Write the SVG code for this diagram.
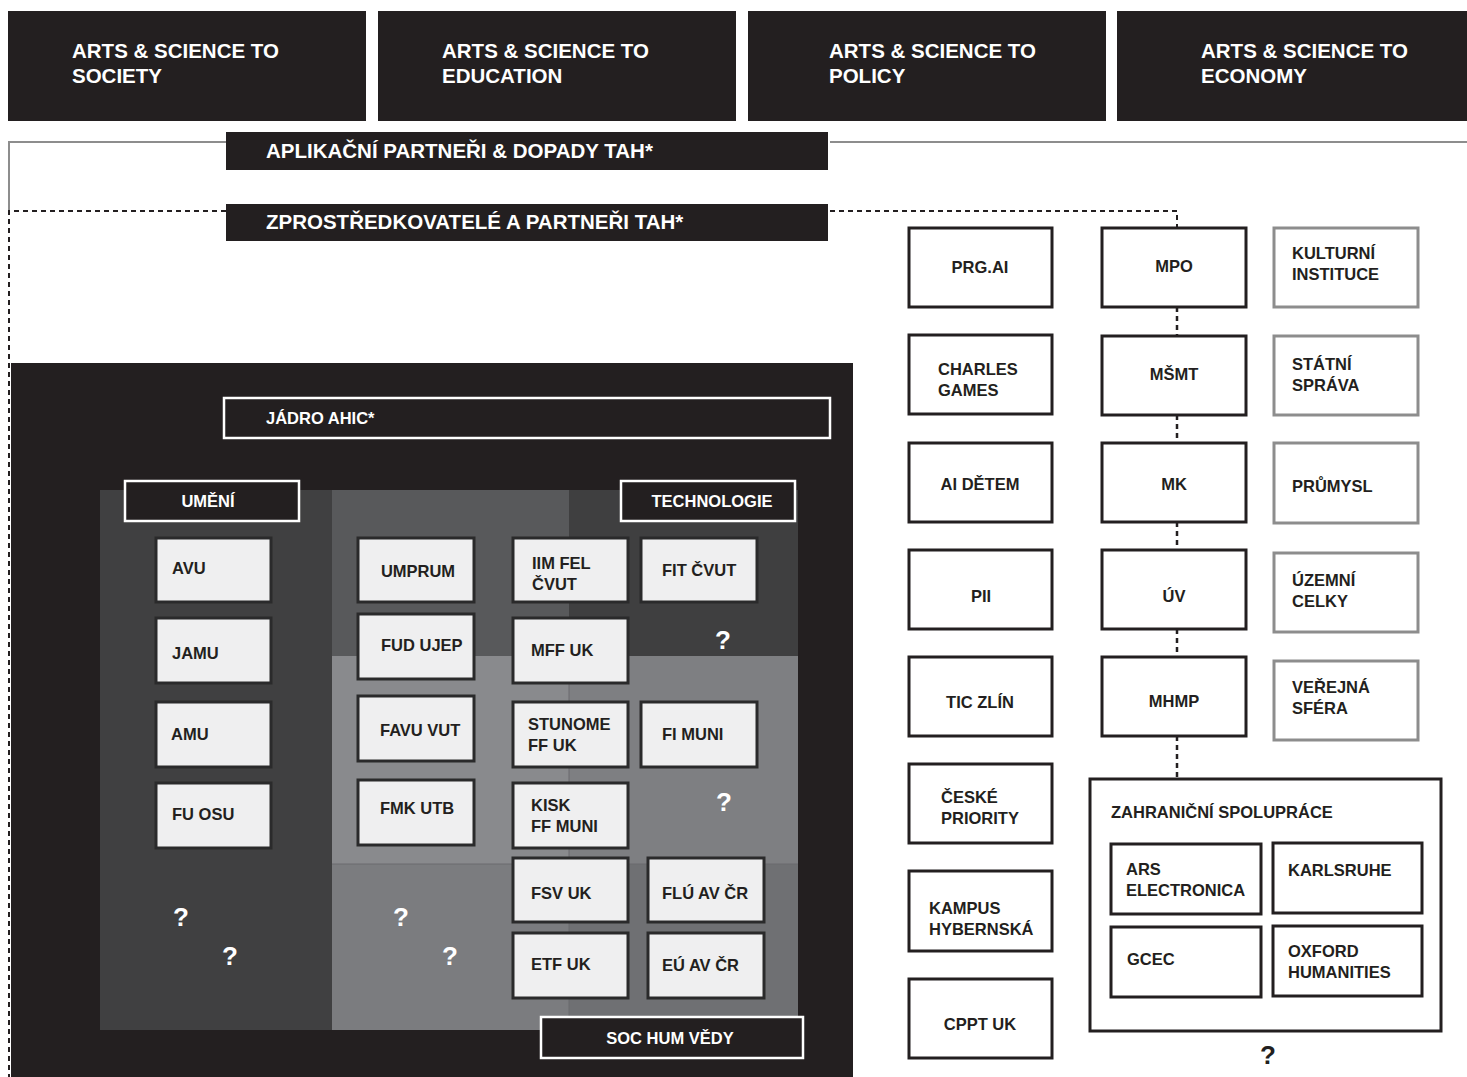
<svg xmlns="http://www.w3.org/2000/svg" width="1467" height="1077" viewBox="0 0 1467 1077">
<style>
text{font-family:"Liberation Sans",Arial,sans-serif;font-weight:700}
.hd{fill:#231f20}
.wt{fill:#ffffff}
.dt{fill:#231f20}
.nb{fill:#efeff0;stroke:#2a2a2b;stroke-width:3}
.rb{fill:#ffffff;stroke:#231f20;stroke-width:3}
.gb{fill:#ffffff;stroke:#8d8d8d;stroke-width:3}
.lab{fill:#231f20;stroke:#ffffff;stroke-width:2.5}
.q{fill:#ffffff;font-size:26px}
.s20{font-size:20.5px}
.s16{font-size:16.5px}
</style>
<rect width="1467" height="1077" fill="#ffffff"/>

<g id="connectors">
  <path d="M226 142 H9 V211" fill="none" stroke="#8d8d8d" stroke-width="2"/>
  <path d="M830 142 H1467" fill="none" stroke="#8d8d8d" stroke-width="2"/>
  <path d="M226 211 H9 V1077" fill="none" stroke="#231f20" stroke-width="2" stroke-dasharray="5 4"/>
  <path d="M830 211 H1177 V228" fill="none" stroke="#231f20" stroke-width="2" stroke-dasharray="5 4"/>
  <path d="M1177 307 V336 M1177 415 V443 M1177 522 V550 M1177 629 V657 M1177 736 V779" fill="none" stroke="#231f20" stroke-width="2.5" stroke-dasharray="5 4"/>
</g>

<g id="impact-society"><rect class="hd" x="8" y="11" width="358" height="110"/><text class="wt s20" x="72" y="58">ARTS &amp; SCIENCE TO</text><text class="wt s20" x="72" y="83">SOCIETY</text></g>
<g id="impact-education"><rect class="hd" x="378" y="11" width="358" height="110"/><text class="wt s20" x="442" y="58">ARTS &amp; SCIENCE TO</text><text class="wt s20" x="442" y="83">EDUCATION</text></g>
<g id="impact-policy"><rect class="hd" x="748" y="11" width="358" height="110"/><text class="wt s20" x="829" y="58">ARTS &amp; SCIENCE TO</text><text class="wt s20" x="829" y="83">POLICY</text></g>
<g id="impact-economy"><rect class="hd" x="1117" y="11" width="350" height="110"/><text class="wt s20" x="1201" y="58">ARTS &amp; SCIENCE TO</text><text class="wt s20" x="1201" y="83">ECONOMY</text></g>

<g id="banner-aplikacni"><rect class="hd" x="226" y="132" width="602" height="38"/><text class="wt s20" x="266" y="158">APLIKAČNÍ PARTNEŘI &amp; DOPADY TAH*</text></g>
<g id="banner-zprostredkovatele"><rect class="hd" x="226" y="204" width="602" height="37"/><text class="wt s20" x="266" y="229">ZPROSTŘEDKOVATELÉ A PARTNEŘI TAH*</text></g>

<g id="core-panel">
  <rect class="hd" x="11" y="363" width="842" height="714"/>
  <rect x="100" y="490" width="232" height="540" fill="#404041"/>
  <rect x="332" y="490" width="237" height="166" fill="#58595b"/>
  <rect x="569" y="490" width="229" height="166" fill="#3f3f40"/>
  <rect x="332" y="656" width="237" height="208" fill="#898a8d"/>
  <rect x="569" y="656" width="229" height="208" fill="#7e7f82"/>
  <rect x="332" y="864" width="237" height="166" fill="#7b7c7f"/>
  <rect x="569" y="864" width="229" height="166" fill="#6f7073"/>
  <path d="M332 864 H798 M569 656 V1030" stroke="#6a6b6e" stroke-width="1" fill="none"/>
</g>
<g id="jadro"><rect class="lab" x="224" y="398" width="606" height="40"/><text class="wt s16" x="266" y="424">JÁDRO AHIC*</text></g>
<g id="umeni"><rect class="lab" x="125" y="481" width="174" height="40"/><text class="wt s16" x="208" y="507" text-anchor="middle">UMĚNÍ</text></g>
<g id="technologie"><rect class="lab" x="621" y="481" width="174" height="40"/><text class="wt s16" x="712" y="507" text-anchor="middle">TECHNOLOGIE</text></g>
<g id="sochum"><rect class="lab" x="541" y="1017" width="262" height="41"/><text class="wt s16" x="670" y="1044" text-anchor="middle">SOC HUM VĚDY</text></g>

<g id="avu"><rect class="nb" x="156" y="538" width="115" height="64"/><text class="dt s16" x="172" y="574">AVU</text></g>
<g id="jamu"><rect class="nb" x="156" y="618" width="115" height="65"/><text class="dt s16" x="172" y="659">JAMU</text></g>
<g id="amu"><rect class="nb" x="156" y="702" width="115" height="65"/><text class="dt s16" x="171" y="740">AMU</text></g>
<g id="fuosu"><rect class="nb" x="156" y="783" width="115" height="65"/><text class="dt s16" x="172" y="820">FU OSU</text></g>

<g id="umprum"><rect class="nb" x="358" y="538" width="116" height="64"/><text class="dt s16" x="418" y="577" text-anchor="middle">UMPRUM</text></g>
<g id="fudujep"><rect class="nb" x="358" y="614" width="116" height="65"/><text class="dt s16" x="381" y="651">FUD UJEP</text></g>
<g id="favuvut"><rect class="nb" x="358" y="696" width="116" height="65"/><text class="dt s16" x="380" y="736">FAVU VUT</text></g>
<g id="fmkutb"><rect class="nb" x="358" y="780" width="116" height="65"/><text class="dt s16" x="380" y="814">FMK UTB</text></g>

<g id="iimfel"><rect class="nb" x="513" y="538" width="115" height="64"/><text class="dt s16" x="532" y="569">IIM FEL</text><text class="dt s16" x="532" y="590">ČVUT</text></g>
<g id="mffuk"><rect class="nb" x="513" y="618" width="115" height="65"/><text class="dt s16" x="531" y="656">MFF UK</text></g>
<g id="stunome"><rect class="nb" x="513" y="702" width="115" height="65"/><text class="dt s16" x="528" y="730">STUNOME</text><text class="dt s16" x="528" y="751">FF UK</text></g>
<g id="kisk"><rect class="nb" x="513" y="783" width="115" height="65"/><text class="dt s16" x="531" y="811">KISK</text><text class="dt s16" x="531" y="832">FF MUNI</text></g>
<g id="fsvuk"><rect class="nb" x="513" y="858" width="115" height="64"/><text class="dt s16" x="531" y="899">FSV UK</text></g>
<g id="etfuk"><rect class="nb" x="513" y="933" width="115" height="65"/><text class="dt s16" x="531" y="970">ETF UK</text></g>

<g id="fitcvut"><rect class="nb" x="641" y="538" width="116" height="64"/><text class="dt s16" x="662" y="576">FIT ČVUT</text></g>
<g id="fimuni"><rect class="nb" x="641" y="702" width="116" height="65"/><text class="dt s16" x="662" y="740">FI MUNI</text></g>
<g id="fluavcr"><rect class="nb" x="648" y="858" width="116" height="64"/><text class="dt s16" x="662" y="899">FLÚ AV ČR</text></g>
<g id="euavcr"><rect class="nb" x="648" y="933" width="116" height="65"/><text class="dt s16" x="662" y="971">EÚ AV ČR</text></g>

<g id="unknowns">
  <text class="q" x="723" y="649" text-anchor="middle">?</text>
  <text class="q" x="724" y="811" text-anchor="middle">?</text>
  <text class="q" x="181" y="926" text-anchor="middle">?</text>
  <text class="q" x="230" y="965" text-anchor="middle">?</text>
  <text class="q" x="401" y="926" text-anchor="middle">?</text>
  <text class="q" x="450" y="965" text-anchor="middle">?</text>
</g>

<g id="prgai"><rect class="rb" x="909" y="228" width="143" height="79"/><text class="dt s16" x="980" y="273" text-anchor="middle">PRG.AI</text></g>
<g id="charlesgames"><rect class="rb" x="909" y="335" width="143" height="79"/><text class="dt s16" x="938" y="375">CHARLES</text><text class="dt s16" x="938" y="396">GAMES</text></g>
<g id="aidetem"><rect class="rb" x="909" y="443" width="143" height="79"/><text class="dt s16" x="980" y="490" text-anchor="middle">AI DĚTEM</text></g>
<g id="pii"><rect class="rb" x="909" y="550" width="143" height="79"/><text class="dt s16" x="981" y="602" text-anchor="middle">PII</text></g>
<g id="ticzlin"><rect class="rb" x="909" y="657" width="143" height="79"/><text class="dt s16" x="980" y="708" text-anchor="middle">TIC ZLÍN</text></g>
<g id="ceskepriority"><rect class="rb" x="909" y="764" width="143" height="79"/><text class="dt s16" x="941" y="803">ČESKÉ</text><text class="dt s16" x="941" y="824">PRIORITY</text></g>
<g id="kampus"><rect class="rb" x="909" y="871" width="143" height="80"/><text class="dt s16" x="929" y="914">KAMPUS</text><text class="dt s16" x="929" y="935">HYBERNSKÁ</text></g>
<g id="cpptuk"><rect class="rb" x="909" y="979" width="143" height="79"/><text class="dt s16" x="980" y="1030" text-anchor="middle">CPPT UK</text></g>

<g id="mpo"><rect class="rb" x="1102" y="228" width="144" height="79"/><text class="dt s16" x="1174" y="272" text-anchor="middle">MPO</text></g>
<g id="msmt"><rect class="rb" x="1102" y="336" width="144" height="79"/><text class="dt s16" x="1174" y="380" text-anchor="middle">MŠMT</text></g>
<g id="mk"><rect class="rb" x="1102" y="443" width="144" height="79"/><text class="dt s16" x="1174" y="490" text-anchor="middle">MK</text></g>
<g id="uv"><rect class="rb" x="1102" y="550" width="144" height="79"/><text class="dt s16" x="1174" y="602" text-anchor="middle">ÚV</text></g>
<g id="mhmp"><rect class="rb" x="1102" y="657" width="144" height="79"/><text class="dt s16" x="1174" y="707" text-anchor="middle">MHMP</text></g>

<g id="kulturni"><rect class="gb" x="1274" y="228" width="144" height="79"/><text class="dt s16" x="1292" y="259">KULTURNÍ</text><text class="dt s16" x="1292" y="280">INSTITUCE</text></g>
<g id="statni"><rect class="gb" x="1274" y="336" width="144" height="79"/><text class="dt s16" x="1292" y="370">STÁTNÍ</text><text class="dt s16" x="1292" y="391">SPRÁVA</text></g>
<g id="prumysl"><rect class="gb" x="1274" y="443" width="144" height="80"/><text class="dt s16" x="1292" y="492">PRŮMYSL</text></g>
<g id="uzemni"><rect class="gb" x="1274" y="553" width="144" height="79"/><text class="dt s16" x="1292" y="586">ÚZEMNÍ</text><text class="dt s16" x="1292" y="607">CELKY</text></g>
<g id="verejna"><rect class="gb" x="1274" y="661" width="144" height="79"/><text class="dt s16" x="1292" y="693">VEŘEJNÁ</text><text class="dt s16" x="1292" y="714">SFÉRA</text></g>

<g id="zahranicni">
  <rect class="rb" x="1090" y="779" width="351" height="252"/>
  <text class="dt s16" x="1111" y="818">ZAHRANIČNÍ SPOLUPRÁCE</text>
</g>
<g id="ars"><rect class="rb" x="1111" y="844" width="150" height="70"/><text class="dt s16" x="1126" y="875">ARS</text><text class="dt s16" x="1126" y="896">ELECTRONICA</text></g>
<g id="karlsruhe"><rect class="rb" x="1273" y="843" width="149" height="70"/><text class="dt s16" x="1288" y="876">KARLSRUHE</text></g>
<g id="gcec"><rect class="rb" x="1111" y="927" width="150" height="70"/><text class="dt s16" x="1127" y="965">GCEC</text></g>
<g id="oxford"><rect class="rb" x="1273" y="926" width="149" height="70"/><text class="dt s16" x="1288" y="957">OXFORD</text><text class="dt s16" x="1288" y="978">HUMANITIES</text></g>
<g id="zahranicni-unknown"><text class="dt" x="1268" y="1064" text-anchor="middle" style="font-size:26px">?</text></g>
</svg>
